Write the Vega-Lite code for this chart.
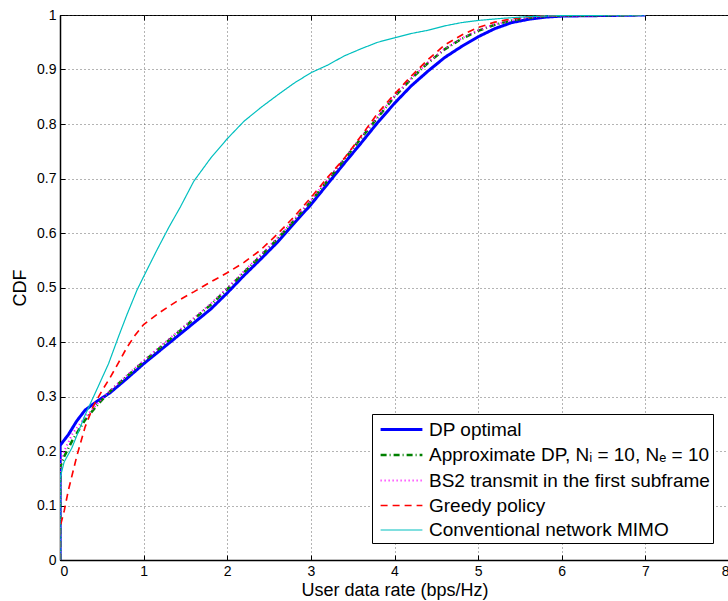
{
  "$schema": "https://vega.github.io/schema/vega-lite/v6.json",
  "width": 669,
  "height": 545,
  "autosize": {"type": "none"},
  "padding": {"left": 60, "top": 15, "right": 0, "bottom": 41},
  "background": "white",
  "config": {
    "font": "Liberation Sans",
    "view": {"stroke": "black", "strokeWidth": 1},
    "axis": {
      "labelFont": "Liberation Sans", "labelFontSize": 14, "labelColor": "black",
      "titleFont": "Liberation Sans", "titleFontSize": 18, "titleFontWeight": "normal", "titleColor": "black",
      "domainColor": "black", "domainWidth": 1.5, "tickColor": "black",
      "gridColor": "#444", "gridDash": [1, 3], "gridWidth": 1, "gridOpacity": 0.8
    }
  },
  "data": {"values": [
    {"s":"DP optimal","i":0,"x":0,"y":0},{"s":"DP optimal","i":1,"x":0,"y":0.21},{"s":"DP optimal","i":2,"x":0.1,"y":0.23},{"s":"DP optimal","i":3,"x":0.2,"y":0.255},{"s":"DP optimal","i":4,"x":0.3,"y":0.275},{"s":"DP optimal","i":5,"x":0.45,"y":0.292},{"s":"DP optimal","i":6,"x":0.6,"y":0.307},{"s":"DP optimal","i":7,"x":0.8,"y":0.333},{"s":"DP optimal","i":8,"x":1.0,"y":0.36},{"s":"DP optimal","i":9,"x":1.2,"y":0.385},{"s":"DP optimal","i":10,"x":1.4,"y":0.41},{"s":"DP optimal","i":11,"x":1.6,"y":0.435},{"s":"DP optimal","i":12,"x":1.8,"y":0.46},{"s":"DP optimal","i":13,"x":2.0,"y":0.49},{"s":"DP optimal","i":14,"x":2.2,"y":0.522},{"s":"DP optimal","i":15,"x":2.4,"y":0.552},{"s":"DP optimal","i":16,"x":2.6,"y":0.583},{"s":"DP optimal","i":17,"x":2.8,"y":0.618},{"s":"DP optimal","i":18,"x":3.0,"y":0.652},{"s":"DP optimal","i":19,"x":3.2,"y":0.69},{"s":"DP optimal","i":20,"x":3.4,"y":0.728},{"s":"DP optimal","i":21,"x":3.6,"y":0.765},{"s":"DP optimal","i":22,"x":3.8,"y":0.803},{"s":"DP optimal","i":23,"x":4.0,"y":0.838},{"s":"DP optimal","i":24,"x":4.2,"y":0.87},{"s":"DP optimal","i":25,"x":4.4,"y":0.897},{"s":"DP optimal","i":26,"x":4.6,"y":0.922},{"s":"DP optimal","i":27,"x":4.8,"y":0.942},{"s":"DP optimal","i":28,"x":5.0,"y":0.96},{"s":"DP optimal","i":29,"x":5.2,"y":0.975},{"s":"DP optimal","i":30,"x":5.4,"y":0.986},{"s":"DP optimal","i":31,"x":5.6,"y":0.992},{"s":"DP optimal","i":32,"x":5.8,"y":0.996},{"s":"DP optimal","i":33,"x":6.0,"y":0.998},{"s":"DP optimal","i":34,"x":6.5,"y":0.999},{"s":"DP optimal","i":35,"x":7.0,"y":1.0},

    {"s":"approx","i":0,"x":0,"y":0},{"s":"approx","i":1,"x":0,"y":0.17},{"s":"approx","i":2,"x":0.05,"y":0.19},{"s":"approx","i":3,"x":0.15,"y":0.22},{"s":"approx","i":4,"x":0.3,"y":0.257},{"s":"approx","i":5,"x":0.45,"y":0.285},{"s":"approx","i":6,"x":0.6,"y":0.31},{"s":"approx","i":7,"x":0.8,"y":0.337},{"s":"approx","i":8,"x":1.0,"y":0.364},{"s":"approx","i":9,"x":1.2,"y":0.39},{"s":"approx","i":10,"x":1.4,"y":0.416},{"s":"approx","i":11,"x":1.6,"y":0.442},{"s":"approx","i":12,"x":1.8,"y":0.468},{"s":"approx","i":13,"x":2.0,"y":0.497},{"s":"approx","i":14,"x":2.2,"y":0.528},{"s":"approx","i":15,"x":2.4,"y":0.558},{"s":"approx","i":16,"x":2.6,"y":0.589},{"s":"approx","i":17,"x":2.8,"y":0.623},{"s":"approx","i":18,"x":3.0,"y":0.658},{"s":"approx","i":19,"x":3.2,"y":0.696},{"s":"approx","i":20,"x":3.4,"y":0.735},{"s":"approx","i":21,"x":3.6,"y":0.774},{"s":"approx","i":22,"x":3.8,"y":0.812},{"s":"approx","i":23,"x":4.0,"y":0.85},{"s":"approx","i":24,"x":4.2,"y":0.883},{"s":"approx","i":25,"x":4.4,"y":0.912},{"s":"approx","i":26,"x":4.6,"y":0.937},{"s":"approx","i":27,"x":4.8,"y":0.956},{"s":"approx","i":28,"x":5.0,"y":0.971},{"s":"approx","i":29,"x":5.2,"y":0.982},{"s":"approx","i":30,"x":5.4,"y":0.99},{"s":"approx","i":31,"x":5.6,"y":0.995},{"s":"approx","i":32,"x":5.8,"y":0.998},{"s":"approx","i":33,"x":6.0,"y":0.999},{"s":"approx","i":34,"x":7.0,"y":1.0},

    {"s":"bs2","i":0,"x":0,"y":0},{"s":"bs2","i":1,"x":0,"y":0.18},{"s":"bs2","i":2,"x":0.05,"y":0.2},{"s":"bs2","i":3,"x":0.15,"y":0.232},{"s":"bs2","i":4,"x":0.3,"y":0.262},{"s":"bs2","i":5,"x":0.45,"y":0.287},{"s":"bs2","i":6,"x":0.6,"y":0.311},{"s":"bs2","i":7,"x":0.8,"y":0.339},{"s":"bs2","i":8,"x":1.0,"y":0.366},{"s":"bs2","i":9,"x":1.2,"y":0.392},{"s":"bs2","i":10,"x":1.4,"y":0.418},{"s":"bs2","i":11,"x":1.6,"y":0.444},{"s":"bs2","i":12,"x":1.8,"y":0.47},{"s":"bs2","i":13,"x":2.0,"y":0.499},{"s":"bs2","i":14,"x":2.2,"y":0.53},{"s":"bs2","i":15,"x":2.4,"y":0.56},{"s":"bs2","i":16,"x":2.6,"y":0.591},{"s":"bs2","i":17,"x":2.8,"y":0.625},{"s":"bs2","i":18,"x":3.0,"y":0.66},{"s":"bs2","i":19,"x":3.2,"y":0.698},{"s":"bs2","i":20,"x":3.4,"y":0.737},{"s":"bs2","i":21,"x":3.6,"y":0.776},{"s":"bs2","i":22,"x":3.8,"y":0.814},{"s":"bs2","i":23,"x":4.0,"y":0.851},{"s":"bs2","i":24,"x":4.2,"y":0.884},{"s":"bs2","i":25,"x":4.4,"y":0.913},{"s":"bs2","i":26,"x":4.6,"y":0.938},{"s":"bs2","i":27,"x":4.8,"y":0.957},{"s":"bs2","i":28,"x":5.0,"y":0.972},{"s":"bs2","i":29,"x":5.2,"y":0.983},{"s":"bs2","i":30,"x":5.4,"y":0.99},{"s":"bs2","i":31,"x":5.6,"y":0.995},{"s":"bs2","i":32,"x":5.8,"y":0.998},{"s":"bs2","i":33,"x":6.0,"y":0.999},{"s":"bs2","i":34,"x":7.0,"y":1.0},

    {"s":"Greedy policy","i":0,"x":0,"y":0},{"s":"Greedy policy","i":1,"x":0,"y":0.06},{"s":"Greedy policy","i":2,"x":0.05,"y":0.09},{"s":"Greedy policy","i":3,"x":0.1,"y":0.128},{"s":"Greedy policy","i":4,"x":0.2,"y":0.19},{"s":"Greedy policy","i":5,"x":0.3,"y":0.244},{"s":"Greedy policy","i":6,"x":0.4,"y":0.283},{"s":"Greedy policy","i":7,"x":0.5,"y":0.31},{"s":"Greedy policy","i":8,"x":0.6,"y":0.335},{"s":"Greedy policy","i":9,"x":0.7,"y":0.362},{"s":"Greedy policy","i":10,"x":0.8,"y":0.39},{"s":"Greedy policy","i":11,"x":0.9,"y":0.413},{"s":"Greedy policy","i":12,"x":1.0,"y":0.432},{"s":"Greedy policy","i":13,"x":1.2,"y":0.455},{"s":"Greedy policy","i":14,"x":1.4,"y":0.475},{"s":"Greedy policy","i":15,"x":1.6,"y":0.492},{"s":"Greedy policy","i":16,"x":1.8,"y":0.51},{"s":"Greedy policy","i":17,"x":2.0,"y":0.527},{"s":"Greedy policy","i":18,"x":2.2,"y":0.546},{"s":"Greedy policy","i":19,"x":2.4,"y":0.569},{"s":"Greedy policy","i":20,"x":2.6,"y":0.598},{"s":"Greedy policy","i":21,"x":2.8,"y":0.63},{"s":"Greedy policy","i":22,"x":3.0,"y":0.665},{"s":"Greedy policy","i":23,"x":3.2,"y":0.702},{"s":"Greedy policy","i":24,"x":3.4,"y":0.737},{"s":"Greedy policy","i":25,"x":3.6,"y":0.778},{"s":"Greedy policy","i":26,"x":3.8,"y":0.82},{"s":"Greedy policy","i":27,"x":4.0,"y":0.855},{"s":"Greedy policy","i":28,"x":4.2,"y":0.888},{"s":"Greedy policy","i":29,"x":4.4,"y":0.918},{"s":"Greedy policy","i":30,"x":4.6,"y":0.945},{"s":"Greedy policy","i":31,"x":4.8,"y":0.963},{"s":"Greedy policy","i":32,"x":5.0,"y":0.977},{"s":"Greedy policy","i":33,"x":5.2,"y":0.987},{"s":"Greedy policy","i":34,"x":5.4,"y":0.993},{"s":"Greedy policy","i":35,"x":5.6,"y":0.997},{"s":"Greedy policy","i":36,"x":6.0,"y":0.999},{"s":"Greedy policy","i":37,"x":7.0,"y":1.0},

    {"s":"Conventional network MIMO","i":0,"x":0,"y":0},{"s":"Conventional network MIMO","i":1,"x":0,"y":0.15},{"s":"Conventional network MIMO","i":2,"x":0.05,"y":0.18},{"s":"Conventional network MIMO","i":3,"x":0.14,"y":0.205},{"s":"Conventional network MIMO","i":4,"x":0.3,"y":0.266},{"s":"Conventional network MIMO","i":5,"x":0.42,"y":0.306},{"s":"Conventional network MIMO","i":6,"x":0.58,"y":0.36},{"s":"Conventional network MIMO","i":7,"x":0.7,"y":0.41},{"s":"Conventional network MIMO","i":8,"x":0.8,"y":0.45},{"s":"Conventional network MIMO","i":9,"x":0.92,"y":0.495},{"s":"Conventional network MIMO","i":10,"x":1.0,"y":0.52},{"s":"Conventional network MIMO","i":11,"x":1.16,"y":0.569},{"s":"Conventional network MIMO","i":12,"x":1.3,"y":0.61},{"s":"Conventional network MIMO","i":13,"x":1.44,"y":0.648},{"s":"Conventional network MIMO","i":14,"x":1.6,"y":0.695},{"s":"Conventional network MIMO","i":15,"x":1.8,"y":0.737},{"s":"Conventional network MIMO","i":16,"x":2.0,"y":0.773},{"s":"Conventional network MIMO","i":17,"x":2.2,"y":0.805},{"s":"Conventional network MIMO","i":18,"x":2.4,"y":0.83},{"s":"Conventional network MIMO","i":19,"x":2.6,"y":0.853},{"s":"Conventional network MIMO","i":20,"x":2.8,"y":0.875},{"s":"Conventional network MIMO","i":21,"x":3.0,"y":0.894},{"s":"Conventional network MIMO","i":22,"x":3.2,"y":0.908},{"s":"Conventional network MIMO","i":23,"x":3.4,"y":0.925},{"s":"Conventional network MIMO","i":24,"x":3.6,"y":0.938},{"s":"Conventional network MIMO","i":25,"x":3.8,"y":0.95},{"s":"Conventional network MIMO","i":26,"x":4.0,"y":0.958},{"s":"Conventional network MIMO","i":27,"x":4.2,"y":0.966},{"s":"Conventional network MIMO","i":28,"x":4.4,"y":0.972},{"s":"Conventional network MIMO","i":29,"x":4.6,"y":0.98},{"s":"Conventional network MIMO","i":30,"x":4.8,"y":0.986},{"s":"Conventional network MIMO","i":31,"x":5.0,"y":0.99},{"s":"Conventional network MIMO","i":32,"x":5.3,"y":0.994},{"s":"Conventional network MIMO","i":33,"x":5.6,"y":0.997},{"s":"Conventional network MIMO","i":34,"x":6.0,"y":0.999},{"s":"Conventional network MIMO","i":35,"x":7.0,"y":1.0}
  ]},
  "layer": [
    {
      "mark": {"type": "line", "clip": true, "strokeCap": "butt"},
      "encoding": {
        "x": {"field": "x", "type": "quantitative", "scale": {"domain": [0, 8], "nice": false},
          "axis": {"title": "User data rate (bps/Hz)", "values": [0,1,2,3,4,5,6,7,8], "tickSize": -5, "labelPadding": 9, "titlePadding": 3, "grid": true}},
        "y": {"field": "y", "type": "quantitative", "scale": {"domain": [0, 1], "nice": false},
          "axis": {"title": "CDF", "values": [0,0.1,0.2,0.3,0.4,0.5,0.6,0.7,0.8,0.9,1], "format": "~g", "tickSize": -5, "labelPadding": 9, "titlePadding": 7, "grid": true}},
        "order": {"field": "i", "type": "quantitative"},
        "color": {"field": "s", "type": "nominal",
          "scale": {"domain": ["DP optimal","approx","bs2","Greedy policy","Conventional network MIMO"],
                    "range": ["#0000ff","#008000","#ff00ff","#ff0000","#00bfbf"]},
          "legend": {
            "orient": "none", "legendX": 312, "legendY": 399, "title": null,
            "symbolType": "M-1.9,0H1.9", "symbolSize": 484, "symbolOffset": 14, "labelLimit": 400,
            "labelFontSize": 19, "labelFont": "Liberation Sans", "labelColor": "black",
            "strokeColor": "black", "fillColor": "white", "padding": 3, "rowPadding": 2.5, "labelOffset": 15,
            "labelExpr": "datum.value == 'approx' ? 'Approximate DP, N\u1d62 = 10, N\u2091 = 10' : datum.value == 'bs2' ? 'BS2 transmit in the first subframe' : datum.value"
          }},
        "strokeDash": {"field": "s", "type": "nominal",
          "scale": {"domain": ["DP optimal","approx","bs2","Greedy policy","Conventional network MIMO"],
                    "range": [[1,0],[6,3,1,3],[1,3],[7,5],[1,0]]},
          "legend": null},
        "strokeWidth": {"field": "s", "type": "nominal",
          "scale": {"domain": ["DP optimal","approx","bs2","Greedy policy","Conventional network MIMO"],
                    "range": [3,1.2,1.2,1.3,1.5]},
          "legend": null}
      }
    },
    {
      "mark": {"type": "line", "opacity": 0},
      "encoding": {
        "x": {"field": "x", "type": "quantitative",
          "axis": {"orient": "top", "title": null, "labels": false, "grid": false, "domain": false, "values": [0,1,2,3,4,5,6,7,8], "tickSize": -5}},
        "y": {"field": "y", "type": "quantitative", "axis": null},
        "detail": {"field": "s"},
        "order": {"field": "i", "type": "quantitative"}
      }
    }
  ],
  "resolve": {"axis": {"x": "independent", "y": "independent"}}
}
